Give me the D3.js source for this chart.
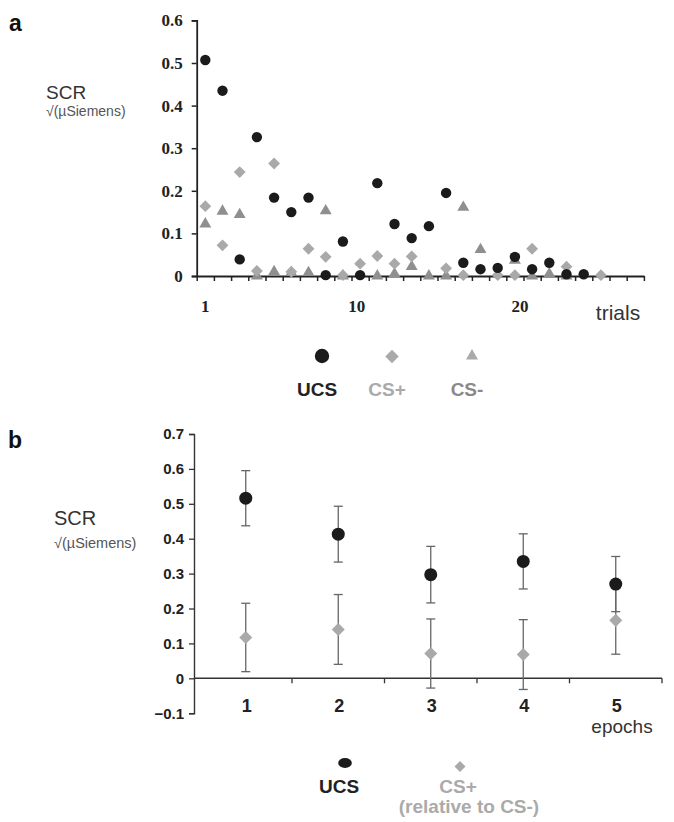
<!DOCTYPE html>
<html>
<head>
<meta charset="UTF-8">
<title>SCR by trial and epoch</title>
<script src="https://cdn.jsdelivr.net/npm/d3@7/dist/d3.min.js"></script>
<style>
  body { margin: 0; background: #fff; }
  svg { display: block; }
  .serif { font-family: "Liberation Serif", "Times New Roman", serif; font-weight: bold; }
  .sans { font-family: "Liberation Sans", Arial, sans-serif; }
</style>
</head>
<body>
<svg width="674" height="822"></svg>
<script>

// ---- panel a: single trials (null = hidden / not readable) ----
var trials = d3.range(1, 25);
var ucsTrial = [0.507, 0.435, 0.039, 0.326, 0.184, 0.150, 0.184, 0.002, 0.081, 0.002, 0.218, 0.122,
                0.089, 0.117, 0.195, 0.031, 0.016, 0.019, 0.045, 0.016, 0.031, 0.004, 0.004, null];
var csPlusTrial = [0.164, 0.072, 0.244, 0.012, 0.264, 0.010, 0.064, 0.045, 0.002, 0.029, 0.047, 0.029,
                   0.046, null, 0.018, 0.002, null, 0.002, 0.002, 0.064, null, 0.022, null, 0.002];
var csMinusTrial = [0.122, 0.152, 0.144, 0.000, 0.010, 0.008, 0.008, 0.153, 0.000, null, 0.000, 0.005,
                    0.022, 0.000, 0.000, 0.161, 0.062, null, 0.037, 0.000, 0.005, 0.000, null, null];
var trialCount = 26;
var trialTickText = ["1", "10", "20"];
var trialTickAt = [1, 9.8, 19.3];   // where the labels sit in the original
var yTicksA = [0, 0.1, 0.2, 0.3, 0.4, 0.5, 0.6];

// ---- panel b: epochs, mean +/- error ----
var epochs = [1, 2, 3, 4, 5];
var ucsMean = [0.516, 0.413, 0.297, 0.335, 0.270];
var ucsErr = [0.079, 0.080, 0.081, 0.079, 0.079];
var csMean = [0.117, 0.140, 0.071, 0.068, 0.166];
var csErr = [0.098, 0.100, 0.099, 0.100, 0.097];
var yTicksB = [-0.1, 0, 0.1, 0.2, 0.3, 0.4, 0.5, 0.6, 0.7];

var colUcs = "#1b1b1b", colPlus = "#a9a9a9", colMinus = "#8f8f8f";

var svg = d3.select("svg");
svg.append("rect").attr("width", 674).attr("height", 822).attr("fill", "#fff");

var diamond = d3.symbol().type(d3.symbolSquare);
var triangle = d3.symbol().type(d3.symbolTriangle);

// ================= panel a =================
var xA = d3.scaleLinear().domain([0.5, trialCount + 0.5]).range([196.7, 643.9]);
var yA = d3.scaleLinear().domain([0, 0.6]).range([276, 20.4]);

var ga = svg.append("g");

ga.append("text").attr("class", "sans").attr("x", 9).attr("y", 31)
  .attr("font-size", 23).attr("font-weight", "bold").attr("fill", "#111").text("a");
ga.append("text").attr("class", "sans").attr("x", 46).attr("y", 99)
  .attr("font-size", 19).attr("fill", "#333").text("SCR");
ga.append("text").attr("class", "sans").attr("x", 46).attr("y", 116)
  .attr("font-size", 14).attr("fill", "#555").text("\u221A(\u00B5Siemens)");

var yAxisA = ga.append("g")
  .attr("transform", "translate(" + xA.range()[0] + ",0)")
  .call(d3.axisLeft(yA).tickValues(yTicksA).tickSize(5).tickPadding(9)
    .tickFormat(function(d) { return d === 0 ? "0" : d3.format(".1f")(d); }));
yAxisA.selectAll("text").attr("class", "serif").attr("font-size", 17).attr("fill", "#222");

var xAxisA = ga.append("g")
  .attr("transform", "translate(0," + yA(0) + ")")
  .call(d3.axisBottom(xA).tickValues(d3.range(0.5, trialCount + 1, 1)).tickSize(5).tickSizeOuter(0)
    .tickFormat(""));

[yAxisA, xAxisA].forEach(function(ax) {
  ax.select(".domain").attr("stroke", "#222").attr("stroke-width", 1.8);
  ax.selectAll(".tick line").attr("stroke", "#222").attr("stroke-width", 1.5);
});

ga.selectAll(".trial-label")
  .data(trialTickText)
  .enter().append("text")
  .attr("class", "serif")
  .attr("x", function(d, i) { return xA(trialTickAt[i]); })
  .attr("y", 312)
  .attr("text-anchor", "middle")
  .attr("font-size", 17)
  .attr("fill", "#222")
  .text(function(d) { return d; });

ga.append("text").attr("class", "sans").attr("x", 618).attr("y", 320)
  .attr("text-anchor", "middle").attr("font-size", 21).attr("fill", "#333").text("trials");

function pts(vals) {
  return trials.map(function(t, i) { return {t: t, v: vals[i]}; })
    .filter(function(d) { return d.v !== null; });
}

ga.selectAll(".cs-minus")
  .data(pts(csMinusTrial))
  .enter().append("path")
  .attr("d", triangle.size(62))
  .attr("transform", function(d) { return "translate(" + xA(d.t) + "," + yA(d.v) + ")"; })
  .attr("fill", colMinus);

ga.selectAll(".cs-plus")
  .data(pts(csPlusTrial))
  .enter().append("path")
  .attr("d", diamond.size(70))
  .attr("transform", function(d) { return "translate(" + xA(d.t) + "," + yA(d.v) + ") rotate(45)"; })
  .attr("fill", colPlus);

ga.selectAll(".ucs")
  .data(pts(ucsTrial))
  .enter().append("circle")
  .attr("cx", function(d) { return xA(d.t); })
  .attr("cy", function(d) { return yA(d.v); })
  .attr("r", 5.2)
  .attr("fill", colUcs);

// legend a
var legA = [
  {name: "UCS", x: 322, shape: "circle", fill: colUcs, text: "#222"},
  {name: "CS+", x: 392, shape: "diamond", fill: colPlus, text: "#aaa"},
  {name: "CS-", x: 472, shape: "triangle", fill: colMinus, text: "#8a8a8a"}
];
legA.forEach(function(d) {
  if (d.shape === "circle") {
    ga.append("circle").attr("cx", d.x).attr("cy", 356).attr("r", 7.2).attr("fill", d.fill);
  } else if (d.shape === "diamond") {
    ga.append("path").attr("d", diamond.size(90))
      .attr("transform", "translate(" + d.x + ",356.5) rotate(45)").attr("fill", d.fill);
  } else {
    ga.append("path").attr("d", triangle.size(62))
      .attr("transform", "translate(" + d.x + ",356)").attr("fill", "#aaa");
  }
  ga.append("text").attr("class", "sans").attr("x", d.x - 5).attr("y", 396)
    .attr("text-anchor", "middle").attr("font-size", 19).attr("font-weight", "bold")
    .attr("fill", d.text).text(d.name);
});

// ================= panel b =================
var xB = d3.scaleBand().domain(epochs).range([199.5, 662]);
var yB = d3.scaleLinear().domain([-0.1, 0.7]).range([713.2, 434]);
var axisX0 = 194;

var gb = svg.append("g");

gb.append("text").attr("class", "sans").attr("x", 8).attr("y", 448)
  .attr("font-size", 23).attr("font-weight", "bold").attr("fill", "#111").text("b");
gb.append("text").attr("class", "sans").attr("x", 54).attr("y", 525)
  .attr("font-size", 20).attr("fill", "#333").text("SCR");
gb.append("text").attr("class", "sans").attr("x", 54).attr("y", 548)
  .attr("font-size", 14.5).attr("fill", "#555").text("\u221A(\u00B5Siemens)");

var yAxisB = gb.append("g")
  .attr("transform", "translate(" + axisX0 + ",0)")
  .call(d3.axisLeft(yB).tickValues(yTicksB).tickSize(5).tickPadding(5)
    .tickFormat(function(d) { return d === 0 ? "0" : d3.format(".1f")(d); }));
yAxisB.selectAll("text").attr("class", "sans").attr("font-size", 15).attr("font-weight", "bold").attr("fill", "#222");
yAxisB.select(".domain").attr("stroke", "#333").attr("stroke-width", 1.4);
yAxisB.selectAll(".tick line").attr("stroke", "#333").attr("stroke-width", 1.3);

// x axis at zero with ticks between epochs
gb.append("line")
  .attr("x1", axisX0).attr("x2", xB.range()[1])
  .attr("y1", yB(0)).attr("y2", yB(0))
  .attr("stroke", "#333").attr("stroke-width", 1.4);
gb.selectAll(".xtick")
  .data(epochs)
  .enter().append("line")
  .attr("x1", function(d) { return xB(d) + xB.bandwidth(); })
  .attr("x2", function(d) { return xB(d) + xB.bandwidth(); })
  .attr("y1", yB(0)).attr("y2", yB(0) + 5)
  .attr("stroke", "#333").attr("stroke-width", 1.3);
gb.selectAll(".xlab")
  .data(epochs)
  .enter().append("text")
  .attr("class", "sans")
  .attr("x", function(d) { return xB(d) + xB.bandwidth() / 2 + 1; })
  .attr("y", 712)
  .attr("text-anchor", "middle")
  .attr("font-size", 18).attr("font-weight", "bold").attr("fill", "#222")
  .text(function(d) { return d; });

gb.append("text").attr("class", "sans").attr("x", 622).attr("y", 733)
  .attr("text-anchor", "middle").attr("font-size", 19).attr("fill", "#333").text("epochs");

function errorBars(means, errs, color) {
  var data = epochs.map(function(e, i) { return {e: e, m: means[i], s: errs[i]}; });
  var g = gb.append("g").attr("stroke", color).attr("stroke-width", 1.3);
  var cx = function(d) { return xB(d.e) + xB.bandwidth() / 2; };
  g.selectAll(".v").data(data).enter().append("line")
    .attr("x1", cx).attr("x2", cx)
    .attr("y1", function(d) { return yB(d.m + d.s); })
    .attr("y2", function(d) { return yB(d.m - d.s); });
  [1, -1].forEach(function(sign) {
    g.selectAll(".c" + sign).data(data).enter().append("line")
      .attr("x1", function(d) { return cx(d) - 4.5; })
      .attr("x2", function(d) { return cx(d) + 4.5; })
      .attr("y1", function(d) { return yB(d.m + sign * d.s); })
      .attr("y2", function(d) { return yB(d.m + sign * d.s); });
  });
}
errorBars(csMean, csErr, "#666");
errorBars(ucsMean, ucsErr, "#666");

gb.selectAll(".cs-b")
  .data(epochs)
  .enter().append("path")
  .attr("d", diamond.size(85))
  .attr("transform", function(d, i) {
    return "translate(" + (xB(d) + xB.bandwidth() / 2) + "," + yB(csMean[i]) + ") rotate(45)";
  })
  .attr("fill", colPlus);

gb.selectAll(".ucs-b")
  .data(epochs)
  .enter().append("circle")
  .attr("cx", function(d) { return xB(d) + xB.bandwidth() / 2; })
  .attr("cy", function(d, i) { return yB(ucsMean[i]); })
  .attr("r", 6.5)
  .attr("fill", colUcs);

// legend b
gb.append("ellipse").attr("cx", 345).attr("cy", 763).attr("rx", 6.8).attr("ry", 5).attr("fill", colUcs);
gb.append("path").attr("d", diamond.size(60))
  .attr("transform", "translate(460,766.5) rotate(45)").attr("fill", colPlus);
gb.append("text").attr("class", "sans").attr("x", 339).attr("y", 793)
  .attr("text-anchor", "middle").attr("font-size", 19).attr("font-weight", "bold").attr("fill", "#222").text("UCS");
gb.append("text").attr("class", "sans").attr("x", 458).attr("y", 793)
  .attr("text-anchor", "middle").attr("font-size", 19).attr("font-weight", "bold").attr("fill", "#aaa").text("CS+");
gb.append("text").attr("class", "sans").attr("x", 469).attr("y", 813)
  .attr("text-anchor", "middle").attr("font-size", 19).attr("font-weight", "bold").attr("fill", "#aaa").text("(relative to CS-)");

</script>
</body>
</html>
